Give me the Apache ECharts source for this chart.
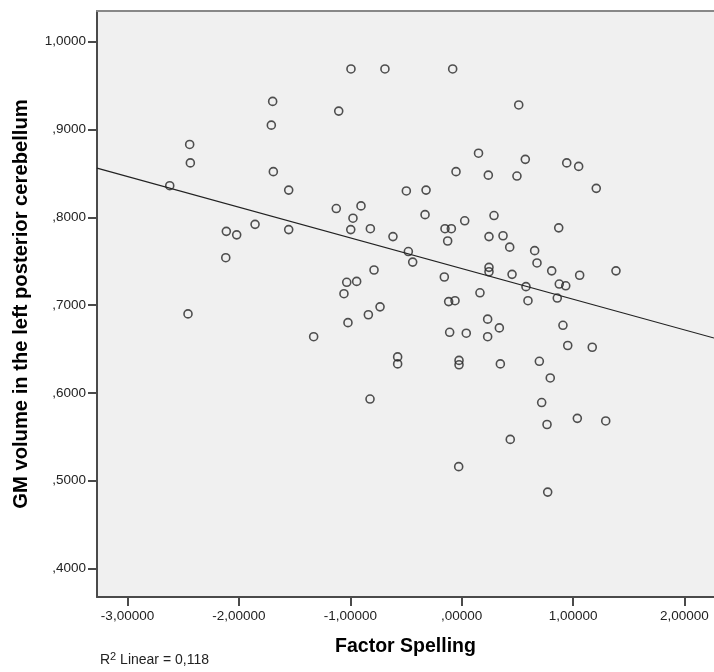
<!DOCTYPE html>
<html>
<head>
<meta charset="utf-8">
<script src="https://cdn.jsdelivr.net/npm/echarts@6/dist/echarts.min.js"></script>
<style>
  html, body { margin: 0; padding: 0; background: #fff; }
  #chart { width: 714px; height: 672px; }
</style>
</head>
<body>
<div id="chart"></div>
<script>
  // Factor Spelling (x) per subject
  var spelling = [
    -2.621, -2.442, -2.436, -2.113, -2.020, -2.118, -2.457, -1.855, -0.994, -0.689,
    -0.081, -1.697, -1.709, -1.104, 0.151, -1.691, -0.051, -1.553, -0.497, -0.320,
    -1.126, -0.904, -0.976, -1.553, -0.996, -0.820, -0.329, -0.150, -0.093, 0.027,
    -0.126, -0.617, -0.479, -0.440, -0.787, -0.156, -1.032, -0.943, -1.057, 0.164,
    -0.117, -0.060, -0.733, -0.838, -1.021, -0.108, 0.041, -1.329, -0.575, -0.575,
    -0.024, -0.024, -0.823, -0.027, 0.512, 0.571, 0.943, 1.050, 0.239, 0.496,
    1.208, 0.290, 0.871, 0.245, 0.371, 0.431, 0.655, 0.676, 0.245, 0.245,
    0.452, 0.808, 1.059, 1.385, 0.876, 0.934, 0.577, 0.595, 0.858, 0.233,
    0.338, 0.909, 0.233, 0.952, 1.172, 0.347, 0.697, 0.795, 0.718, 1.038,
    1.293, 0.766, 0.436, 0.772
  ];
  // GM volume in the left posterior cerebellum (y)
  var gmVolume = [
    0.836, 0.883, 0.862, 0.784, 0.780, 0.754, 0.690, 0.792, 0.969, 0.969,
    0.969, 0.932, 0.905, 0.921, 0.873, 0.852, 0.852, 0.831, 0.830, 0.831,
    0.810, 0.813, 0.799, 0.786, 0.786, 0.787, 0.803, 0.787, 0.787, 0.796,
    0.773, 0.778, 0.761, 0.749, 0.740, 0.732, 0.726, 0.727, 0.713, 0.714,
    0.704, 0.705, 0.698, 0.689, 0.680, 0.669, 0.668, 0.664, 0.641, 0.633,
    0.637, 0.632, 0.593, 0.516, 0.928, 0.866, 0.862, 0.858, 0.848, 0.847,
    0.833, 0.802, 0.788, 0.778, 0.779, 0.766, 0.762, 0.748, 0.743, 0.738,
    0.735, 0.739, 0.734, 0.739, 0.724, 0.722, 0.721, 0.705, 0.708, 0.684,
    0.674, 0.677, 0.664, 0.654, 0.652, 0.633, 0.636, 0.617, 0.589, 0.571,
    0.568, 0.564, 0.547, 0.487
  ];
  // linear fit line, ends at the plot edges
  var fitX = [-3.274, 2.265];
  var fitY = [0.856, 0.6625];

  var xTicks = [-3, -2, -1, 0, 1, 2];
  var yTicks = [0.4, 0.5, 0.6, 0.7, 0.8, 0.9, 1.0];

  var points = spelling.map(function (x, i) { return [x, gmVolume[i]]; });
  var fitLine = fitX.map(function (x, i) { return [x, fitY[i]]; });

  // SPSS style numbers: comma decimal, no leading zero
  function spss(v, digits) {
    var s = v.toFixed(digits).replace('.', ',');
    if (s.indexOf('0,') === 0) s = s.substring(1);
    if (s.indexOf('-0,') === 0) s = '-' + s.substring(2);
    return s;
  }

  var font = 'Arial, "Liberation Sans", sans-serif';
  var axisGrey = '#4a4a4a';
  var chart = echarts.init(document.getElementById('chart'));
  chart.setOption({
    animation: false,
    backgroundColor: '#fff',
    textStyle: { fontFamily: font },
    grid: {
      // the frame runs past the right edge of the picture, so no right border
      left: 97, top: 11, right: 0, bottom: 75,
      show: true,
      backgroundColor: '#f0f0f0',
      borderWidth: 0
    },
    xAxis: [{
      type: 'value',
      min: -3.274, max: 2.265,
      name: 'Factor Spelling',
      nameLocation: 'middle',
      nameGap: 40,
      nameTextStyle: { fontSize: 19.5, fontWeight: 'bold', color: '#000', fontFamily: font },
      axisLine: { show: true, onZero: false, lineStyle: { color: axisGrey, width: 2 } },
      axisTick: { show: true, length: 9, customValues: xTicks, lineStyle: { color: axisGrey, width: 2 } },
      axisLabel: {
        customValues: xTicks,
        margin: 12, fontSize: 13.5, color: '#222', fontFamily: font,
        formatter: function (v) { return spss(v, 5); }
      },
      splitLine: { show: false }
    }, {
      // top edge of the frame only
      type: 'value',
      position: 'top',
      min: -3.274, max: 2.265,
      axisLine: { show: true, onZero: false, lineStyle: { color: '#888', width: 2 } },
      axisTick: { show: false },
      axisLabel: { show: false },
      splitLine: { show: false }
    }],
    yAxis: {
      type: 'value',
      min: 0.3675, max: 1.035,
      name: 'GM volume in the left posterior cerebellum',
      nameLocation: 'middle',
      nameGap: 66,
      nameTextStyle: { fontSize: 20.2, fontWeight: 'bold', color: '#000', fontFamily: font },
      axisLine: { show: true, onZero: false, lineStyle: { color: axisGrey, width: 2 } },
      axisTick: { show: true, length: 9, customValues: yTicks, lineStyle: { color: axisGrey, width: 2 } },
      axisLabel: {
        customValues: yTicks,
        margin: 11, fontSize: 13.5, color: '#222', fontFamily: font,
        formatter: function (v) { return spss(v, 4); }
      },
      splitLine: { show: false }
    },
    graphic: [{
      type: 'text',
      left: 100,
      top: 651,
      style: {
        text: '{a|R}{b|2}{a| Linear = 0,118}',
        rich: {
          a: { fontSize: 14, fontFamily: font, fill: '#222', lineHeight: 19, verticalAlign: 'bottom' },
          b: { fontSize: 11, fontFamily: font, fill: '#222', lineHeight: 19, verticalAlign: 'bottom', padding: [0, 0, 5, 0] }
        }
      }
    }],
    series: [{
      type: 'scatter',
      data: points,
      symbol: 'circle',
      symbolSize: 8,
      itemStyle: { color: 'rgba(0,0,0,0)', borderColor: '#262626', borderWidth: 1.6 },
      silent: true
    }, {
      type: 'line',
      data: fitLine,
      symbol: 'none',
      lineStyle: { color: '#222', width: 1.2 },
      silent: true
    }]
  });
</script>
</body>
</html>
